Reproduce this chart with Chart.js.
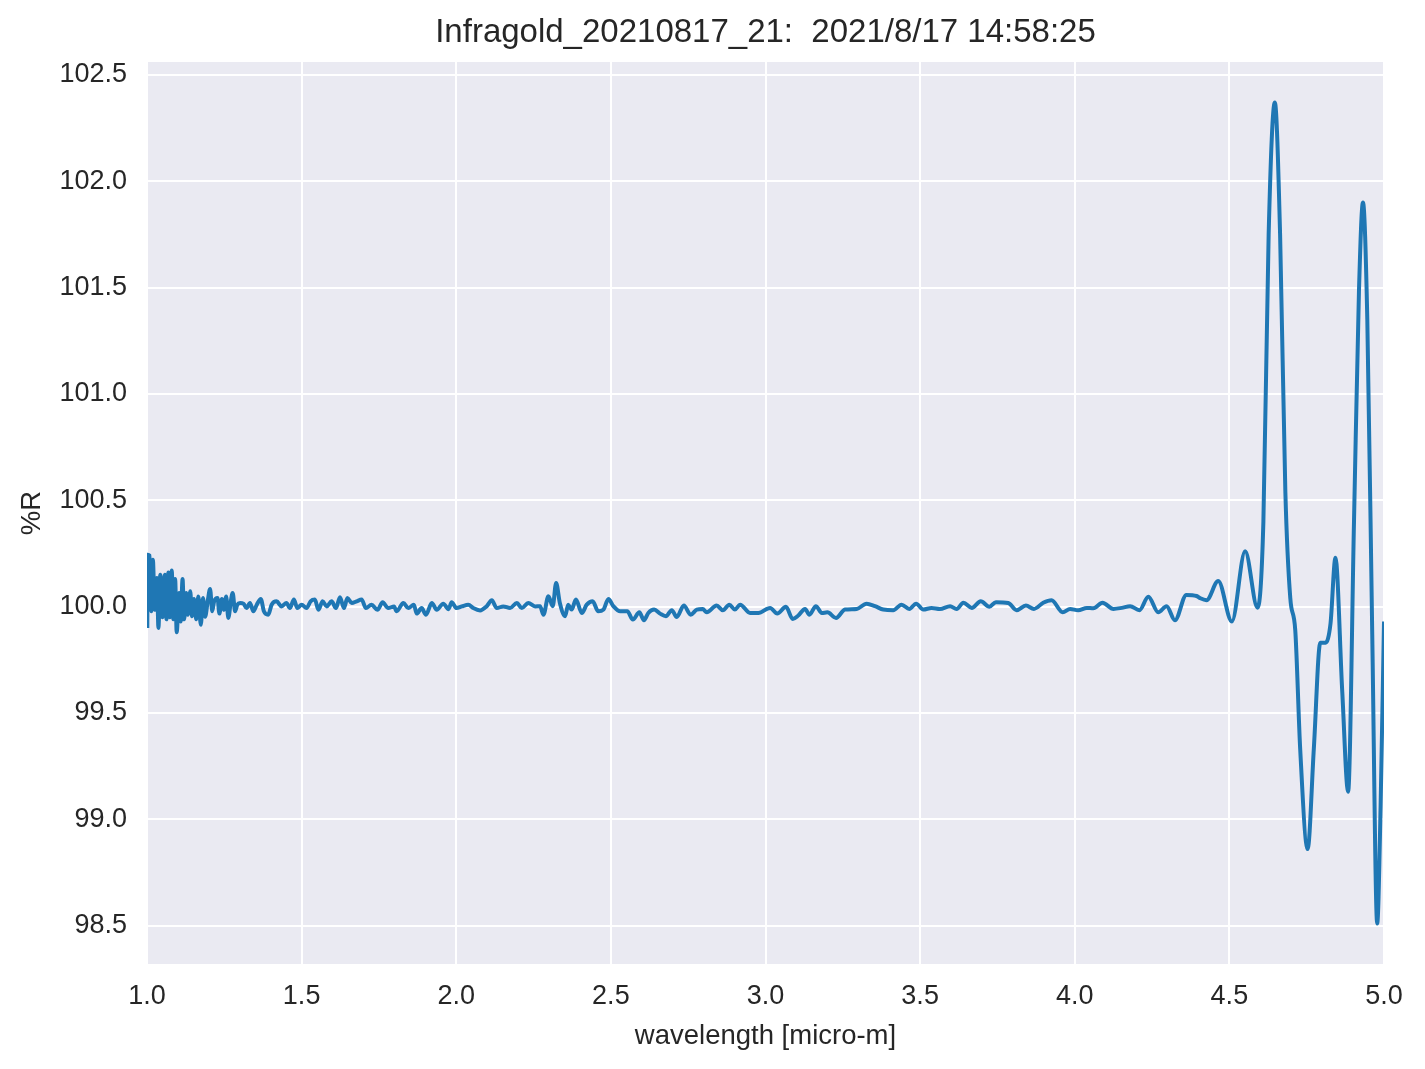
<!DOCTYPE html>
<html>
<head>
<meta charset="utf-8">
<script src="https://cdn.jsdelivr.net/npm/chart.js@4.4.1/dist/chart.umd.min.js"></script>
<style>
  html, body { margin: 0; padding: 0; background: #ffffff; }
  #wrap { width: 1425px; height: 1069px; }
</style>
</head>
<body>
<div id="wrap"><canvas id="spectrum" width="1425" height="1069"></canvas></div>
<script>
const titleText = "Infragold_20210817_21:  2021/8/17 14:58:25";

const wavelength = [
  1.001, 1.002, 1.008, 1.014, 1.019, 1.025, 1.032, 1.037, 1.043, 1.050,
  1.058, 1.063, 1.069, 1.074, 1.080, 1.085, 1.091, 1.096, 1.104, 1.109,
  1.115, 1.120, 1.127, 1.132, 1.140, 1.145, 1.152, 1.159, 1.166, 1.174,
  1.181, 1.188, 1.197, 1.204, 1.211, 1.217, 1.228, 1.234, 1.242, 1.249,
  1.256, 1.263, 1.271, 1.277, 1.285, 1.292, 1.301, 1.312, 1.322, 1.333,
  1.344, 1.355, 1.368, 1.378, 1.392, 1.403, 1.419, 1.435, 1.451, 1.462,
  1.475, 1.486, 1.500, 1.516, 1.529, 1.543, 1.554, 1.568, 1.581, 1.597,
  1.611, 1.624, 1.637, 1.648, 1.662, 1.678, 1.694, 1.708, 1.726, 1.745,
  1.762, 1.780, 1.799, 1.807, 1.829, 1.845, 1.863, 1.872, 1.888, 1.902,
  1.921, 1.937, 1.958, 1.975, 1.985, 2.001, 2.018, 2.039, 2.055, 2.077,
  2.098, 2.115, 2.131, 2.152, 2.174, 2.196, 2.212, 2.233, 2.255, 2.271,
  2.282, 2.298, 2.312, 2.323, 2.335, 2.352, 2.362, 2.373, 2.387, 2.406,
  2.422, 2.441, 2.459, 2.476, 2.492, 2.508, 2.530, 2.553, 2.571, 2.592,
  2.607, 2.621, 2.640, 2.659, 2.678, 2.697, 2.713, 2.736, 2.758, 2.778,
  2.797, 2.810, 2.842, 2.862, 2.883, 2.901, 2.918, 2.950, 2.977, 3.015,
  3.038, 3.066, 3.088, 3.106, 3.128, 3.142, 3.163, 3.182, 3.200, 3.228,
  3.257, 3.295, 3.327, 3.354, 3.381, 3.413, 3.440, 3.465, 3.487, 3.510,
  3.537, 3.564, 3.597, 3.618, 3.640, 3.667, 3.696, 3.724, 3.745, 3.785,
  3.812, 3.842, 3.868, 3.898, 3.925, 3.961, 3.985, 4.011, 4.039, 4.060,
  4.090, 4.125, 4.152, 4.179, 4.209, 4.238, 4.270, 4.297, 4.324, 4.361,
  4.394, 4.405, 4.426, 4.464, 4.508, 4.551, 4.591, 4.610, 4.627, 4.647,
  4.664, 4.681, 4.697, 4.713, 4.729, 4.753, 4.773, 4.794, 4.811, 4.827,
  4.843, 4.865, 4.884, 4.903, 4.919, 4.932, 4.946, 4.962, 4.978, 4.989,
  5.000
];

const reflectance = [
  99.90, 100.244, 100.24, 99.978, 100.22, 99.985, 100.134, 99.90, 100.15, 99.95,
  100.15, 99.94, 100.16, 99.95, 100.17, 99.94, 100.13, 99.88, 100.064, 99.93,
  100.13, 99.94, 100.064, 99.962, 100.072, 99.955, 100.036, 99.94, 100.048, 99.915,
  100.041, 99.952, 100.033, 100.083, 99.978, 100.025, 100.041, 99.967, 100.036, 99.985,
  100.048, 99.947, 100.025, 100.064, 99.978, 100.009, 100.017, 100.014, 99.993, 100.017,
  99.978, 100.009, 100.036, 99.978, 99.962, 100.009, 100.025, 100.001, 100.017, 99.993,
  100.033, 99.993, 100.009, 99.993, 100.025, 100.033, 99.985, 100.025, 100.001, 100.025,
  99.993, 100.044, 99.993, 100.041, 100.017, 100.025, 100.033, 99.993, 100.009, 99.985,
  100.020, 99.993, 100.001, 99.978, 100.017, 99.993, 100.009, 99.967, 99.993, 99.962,
  100.017, 99.985, 100.014, 99.988, 100.020, 99.993, 100.001, 100.009, 99.993, 99.982,
  100.001, 100.030, 99.993, 100.001, 99.993, 100.017, 99.993, 100.017, 100.001, 100.002,
  99.962, 100.049, 100.002, 100.111, 100.017, 99.955, 100.009, 99.986, 100.033, 99.970,
  100.009, 100.025, 99.978, 99.986, 100.036, 100.002, 99.978, 99.978, 99.939, 99.973,
  99.936, 99.970, 99.986, 99.967, 99.955, 99.983, 99.951, 100.005, 99.962, 99.986,
  99.989, 99.973, 100.005, 99.983, 100.009, 99.986, 100.009, 99.970, 99.970, 99.994,
  99.967, 99.999, 99.942, 99.958, 99.989, 99.962, 100.002, 99.970, 99.973, 99.947,
  99.986, 99.989, 100.014, 100.002, 99.986, 99.983, 100.009, 99.989, 100.014, 99.986,
  99.994, 99.989, 100.002, 99.989, 100.018, 99.994, 100.025, 99.999, 100.021, 100.017,
  99.983, 100.005, 99.989, 100.018, 100.030, 99.973, 99.989, 99.983, 99.994, 99.992,
  100.018, 99.989, 99.994, 100.002, 99.983, 100.046, 99.973, 100.002, 99.936, 100.055,
  100.050, 100.04, 100.03, 100.12, 99.93, 100.26, 99.995, 100.40, 101.75, 102.37,
  101.75, 100.54, 100.04, 99.89, 99.33, 98.86, 99.33, 99.83, 99.83, 99.92,
  100.23, 99.60, 99.13, 100.40, 101.48, 101.90, 101.35, 99.87, 98.51, 99.06,
  99.93
];

const xTicks = { min: 1.0, max: 5.0, step: 0.5 };
const yTicks = { min: 98.32, max: 102.56, step: 0.5 };

const textColor = "#262626";
const fontFamily = "'Liberation Sans', Arial, Helvetica, sans-serif";

const points = wavelength.map((w, i) => ({ x: w, y: reflectance[i] }));

// grey plot face like seaborn darkgrid
const plotBackground = {
  id: "plotBackground",
  beforeDraw(chart) {
    const { ctx, chartArea } = chart;
    ctx.save();
    ctx.fillStyle = "#eaeaf2";
    ctx.fillRect(chartArea.left, chartArea.top, chartArea.right - chartArea.left, chartArea.bottom - chartArea.top);
    ctx.restore();
  }
};

// title centred over the plot area, not the whole canvas
const plotTitle = {
  id: "plotTitle",
  afterDraw(chart) {
    const { ctx, chartArea } = chart;
    ctx.save();
    ctx.fillStyle = textColor;
    ctx.font = "33px " + fontFamily;
    ctx.textAlign = "center";
    ctx.textBaseline = "middle";
    ctx.fillText(titleText, (chartArea.left + chartArea.right) / 2, 33);
    ctx.restore();
  }
};

const ctx = document.getElementById("spectrum").getContext("2d");

new Chart(ctx, {
  type: "line",
  data: {
    datasets: [{
      data: points,
      borderColor: "#1f77b4",
      borderWidth: 4,
      pointRadius: 0,
      fill: false,
      cubicInterpolationMode: "monotone"
    }]
  },
  options: {
    responsive: false,
    animation: false,
    layout: { padding: { left: 0, right: 41, top: 62, bottom: 0 } },
    plugins: {
      legend: { display: false },
      tooltip: { enabled: false },
      title: { display: false }
    },
    scales: {
      x: {
        type: "linear",
        min: xTicks.min,
        max: xTicks.max,
        afterFit(scale) { scale.height = 105; },
        border: { display: false },
        grid: { color: "#ffffff", lineWidth: 2, drawTicks: false },
        ticks: {
          stepSize: xTicks.step,
          padding: 16,
          color: textColor,
          font: { family: fontFamily, size: 27 },
          callback: v => v.toFixed(1)
        },
        title: {
          display: true,
          text: "wavelength [micro-m]",
          color: textColor,
          font: { family: fontFamily, size: 27.5, lineHeight: 1.2 },
          padding: { top: 0, bottom: 16.5 }
        }
      },
      y: {
        type: "linear",
        min: yTicks.min,
        max: yTicks.max,
        afterFit(scale) { scale.width = 147; },
        border: { display: false },
        grid: { color: "#ffffff", lineWidth: 2, drawTicks: false },
        ticks: {
          stepSize: yTicks.step,
          includeBounds: false,
          padding: 20,
          color: textColor,
          font: { family: fontFamily, size: 27 },
          callback: v => v.toFixed(1)
        },
        title: {
          display: true,
          text: "%R",
          color: textColor,
          font: { family: fontFamily, size: 27.5, lineHeight: 1.2 },
          padding: { top: 16, bottom: 0 }
        }
      }
    }
  },
  plugins: [plotBackground, plotTitle]
});
</script>
</body>
</html>
